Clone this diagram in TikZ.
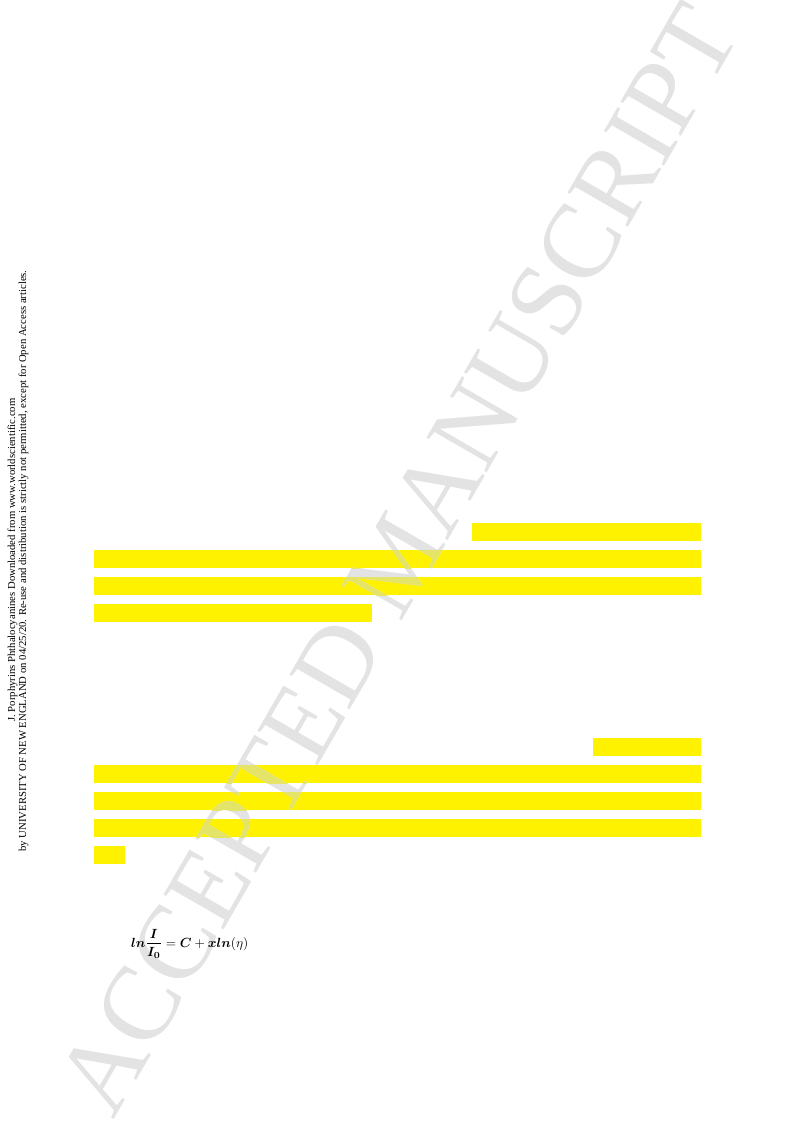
\documentclass[tikz,border=0pt]{standalone}
\usepackage{amsmath,bm,graphicx}
\usepackage{fontspec}
\setmainfont{Liberation Serif}
\definecolor{wmgray}{RGB}{227,227,227}
\definecolor{wmolive}{RGB}{228,228,105}
\tikzset{
  bar/.style={fill=yellow},
  wm/.style={font=\fontsize{106}{106}\selectfont, inner sep=0pt, anchor=base west, rotate=60},
  side/.style={font=\fontsize{10.7}{10.7}\selectfont, inner sep=0pt},
  eqn/.style={inner sep=0pt},
}
\newcommand{\barsclip}{%
  (472,523) rectangle (701,541)
  (94,550) rectangle (701,568)
  (94,577) rectangle (701,595)
  (94,604) rectangle (372,622)
  (593,738) rectangle (701,756)
  (94,765) rectangle (701,783)
  (94,792) rectangle (701,810)
  (94,819) rectangle (701,837)
  (94,846) rectangle (125,864)}
\begin{document}
\begin{tikzpicture}[x=1pt,y=-1pt]
\useasboundingbox (0,0) rectangle (793,1121);
\fill[white] (0,0) rectangle (793,1121);
% yellow bars
\fill[bar] (472,523) rectangle (701,541);
\fill[bar] (94,550) rectangle (701,568);
\fill[bar] (94,577) rectangle (701,595);
\fill[bar] (94,604) rectangle (372,622);
\fill[bar] (593,738) rectangle (701,756);
\fill[bar] (94,765) rectangle (701,783);
\fill[bar] (94,792) rectangle (701,810);
\fill[bar] (94,819) rectangle (701,837);
\fill[bar] (94,846) rectangle (125,864);
% watermark
\node[wm, text=wmgray] (wm) at (113,1121) {ACCEPTED MANUSCRIPT};
\begin{scope}
  \clip \barsclip;
  \node[wm, text=wmolive] (wmo) at (113,1121) {ACCEPTED MANUSCRIPT};
\end{scope}
% formula
\node[eqn, anchor=base west] (eq) at (131,947) {\scalebox{1.33}{$\displaystyle \bm{ln}\frac{\bm{I}}{\bm{I_0}} = \bm{C} + \bm{xln}(\eta)$}};
% side text
\node[side, rotate=90, anchor=base] (s1) at (15,560) {J. Porphyrins Phthalocyanines Downloaded from www.worldscientific.com};
\node[side, rotate=90, anchor=base] (s2) at (26,561) {by UNIVERSITY OF NEW ENGLAND on 04/25/20. Re-use and distribution is strictly not permitted, except for Open Access articles.};
\end{tikzpicture}
\end{document}
